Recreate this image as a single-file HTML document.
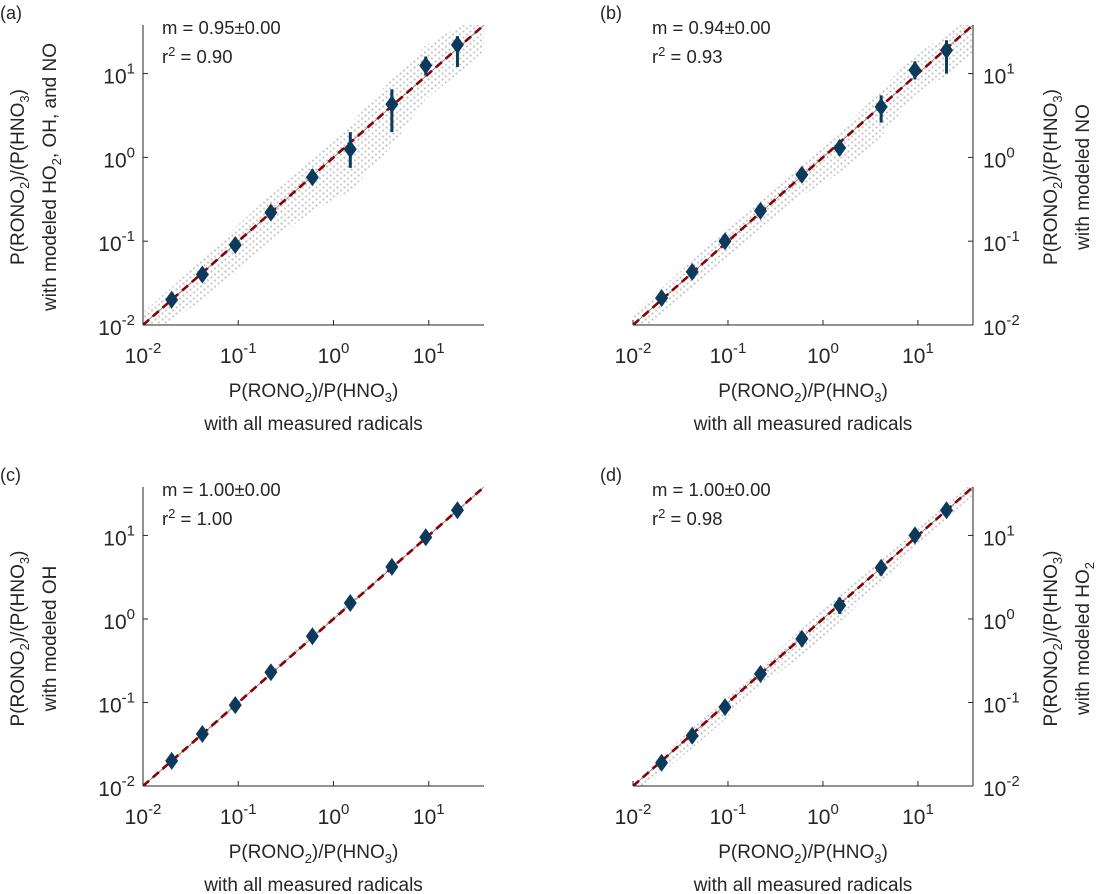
<!DOCTYPE html>
<html><head><meta charset="utf-8">
<style>
html,body{margin:0;padding:0;background:#fff;}
svg{display:block;font-family:"Liberation Sans",sans-serif;fill:#262626;}
</style></head>
<body>
<svg id="fig" width="1103" height="894" viewBox="0 0 1103 894" xmlns="http://www.w3.org/2000/svg">
<defs>
<pattern id="dots" width="7" height="6" patternUnits="userSpaceOnUse">
<circle cx="1.5" cy="1.5" r="1.1" fill="#c2c2c2"/><circle cx="5" cy="4.5" r="1.1" fill="#c8c8c8"/>
</pattern>
</defs>
</svg>
<script>
// Binned data (x = with all measured radicals)
const binX = [0.02, 0.042, 0.093, 0.22, 0.6, 1.5, 4.1, 9.3, 20];
const yA = [0.02, 0.04, 0.09, 0.22, 0.58, 1.25, 4.3, 12.5, 22];
const loA = [0.017, 0.034, 0.076, 0.18, 0.48, 0.75, 2.0, 9.5, 12];
const hiA = [0.024, 0.048, 0.11, 0.27, 0.72, 2.0, 6.5, 16, 28];
const yB = [0.021, 0.043, 0.1, 0.23, 0.62, 1.3, 4.0, 11, 19];
const loB = [0.018, 0.036, 0.085, 0.19, 0.52, 1.05, 2.6, 8.5, 10];
const hiB = [0.025, 0.05, 0.12, 0.28, 0.74, 1.6, 5.5, 14, 25];
const yC = [0.02, 0.042, 0.093, 0.23, 0.62, 1.55, 4.2, 9.5, 20];
const loC = [0.018, 0.037, 0.083, 0.2, 0.52, 1.3, 3.5, 8.0, 17];
const hiC = [0.023, 0.048, 0.105, 0.27, 0.74, 1.85, 5.0, 11.5, 23];
const yD = [0.019, 0.04, 0.088, 0.22, 0.58, 1.45, 4.1, 10, 20];
const loD = [0.016, 0.033, 0.074, 0.18, 0.47, 1.15, 3.3, 8.3, 17];
const hiD = [0.022, 0.047, 0.105, 0.26, 0.7, 1.8, 5.0, 12, 23];
// Scatter spread (decades) around the bins, per panel
const spreadA = [0.25, 0.3, 0.35, 0.35, 0.4, 0.5, 0.5, 0.4, 0.35];
const spreadB = [0.2, 0.22, 0.25, 0.25, 0.25, 0.3, 0.35, 0.3, 0.3];
const spreadC = [0.03, 0.03, 0.03, 0.03, 0.03, 0.03, 0.03, 0.03, 0.03];
const spreadD = [0.12, 0.15, 0.15, 0.15, 0.2, 0.2, 0.18, 0.15, 0.1];
const slopes = ["0.95", "0.94", "1.00", "1.00"];
const r2s = ["0.90", "0.93", "1.00", "0.98"];
const tickExp = [-2, -1, 0, 1];

const NS = "http://www.w3.org/2000/svg";
const svg = document.getElementById('fig');
function mk(tag, attrs, parent) {
  const e = document.createElementNS(NS, tag);
  for (const k in attrs) e.setAttribute(k, attrs[k]);
  (parent || svg).appendChild(e);
  return e;
}
const XMIN = -2, XMAX = Math.log10(38);

const panels = [
  {id:'a', L:143, R:484, T:25, B:325, right:false, y:yA, lo:loA, hi:hiA, sp:spreadA, yl2:'with modeled HO', yl2sub:'2', yl2tail:', OH, and NO'},
  {id:'b', L:633, R:973, T:25, B:325, right:true, y:yB, lo:loB, hi:hiB, sp:spreadB, yl2:'with modeled NO', yl2sub:'', yl2tail:''},
  {id:'c', L:143, R:484, T:487, B:786, right:false, y:yC, lo:loC, hi:hiC, sp:spreadC, yl2:'with modeled OH', yl2sub:'', yl2tail:''},
  {id:'d', L:633, R:973, T:487, B:786, right:true, y:yD, lo:loD, hi:hiD, sp:spreadD, yl2:'with modeled HO', yl2sub:'2', yl2tail:''}
];

function tspanSub(t, txt, dy) {
  const s = mk('tspan', {'font-size':'13', dy: dy}, t); s.textContent = txt; return s;
}

panels.forEach((p, pi) => {
  const g = mk('g', {});
  
  
  const sx = v => p.L + (Math.log10(v) - XMIN) / (XMAX - XMIN) * (p.R - p.L);
  const sy = v => p.B - (Math.log10(v) - XMIN) / (XMAX - XMIN) * (p.B - p.T);
  const cid = 'clip' + p.id;
  const cp = mk('clipPath', {id: cid}, g);
  mk('rect', {x:p.L, y:p.T, width:p.R-p.L, height:p.B-p.T}, cp);
  const plot = mk('g', {'clip-path':'url(#'+cid+')'}, g);

  const up = [], dn = [];
  const xs = [0.008].concat(binX, [50]);
  const ys = [0.008 * p.y[0] / binX[0]].concat(p.y, [50 * p.y[8] / binX[8]]);
  const ss = [p.sp[0]].concat(p.sp, [p.sp[8]]);
  xs.forEach((x, i) => {
    const yv = ys[i];
    up.push(sx(x) + ',' + sy(yv * Math.pow(10, ss[i] * 0.6)));
    dn.unshift(sx(x) + ',' + sy(yv / Math.pow(10, ss[i])));
  });
  const band = mk('polygon', {points: up.concat(dn).join(' '), fill:'url(#dots)'}, plot);
  
  

  mk('line', {x1:sx(0.01), y1:sy(0.01), x2:sx(38), y2:sy(38), stroke:'#777', 'stroke-width':0.8}, plot);
  const one = mk('line', {x1:sx(0.01), y1:sy(0.01), x2:sx(38), y2:sy(38), stroke:'#8b0000', 'stroke-width':2.6, 'stroke-dasharray':'8,5'}, plot);
  
  

  binX.forEach((x, i) => {
    const cx = sx(x), cy = sy(p.y[i]);
    const eb = mk('line', {x1:cx, y1:sy(p.lo[i]), x2:cx, y2:sy(p.hi[i]), stroke:'#0b3a5c', 'stroke-width':3}, plot);
    
    
    const d = mk('polygon', {points:`${cx},${cy-9} ${cx+6.5},${cy} ${cx},${cy+9} ${cx-6.5},${cy}`, fill:'#0b3a5c'}, plot);
    
    
  });

  const ax = p.right ? p.R : p.L;
  mk('line', {x1:p.L, y1:p.B, x2:p.R, y2:p.B, stroke:'#262626', 'stroke-width':1}, g);
  mk('line', {x1:ax, y1:p.T, x2:ax, y2:p.B, stroke:'#262626', 'stroke-width':1}, g);
  tickExp.forEach(e => {
    const v = Math.pow(10, e);
    const tx = sx(v), ty = sy(v);
    mk('line', {x1:tx, y1:p.B, x2:tx, y2:p.B-5, stroke:'#262626'}, g);
    mk('line', {x1:ax, y1:ty, x2: p.right ? ax-5 : ax+5, y2:ty, stroke:'#262626'}, g);
    const xt = mk('text', {x:tx, y:p.B+38, 'font-size':'21', 'text-anchor':'middle'}, g);
    
    
    xt.appendChild(document.createTextNode('10'));
    const s1 = mk('tspan', {'font-size':'15', dy:'-10'}, xt); s1.textContent = String(e);
    const yt = mk('text', {x: p.right ? ax+10 : ax-8, y:ty+10, 'font-size':'21', 'text-anchor': p.right ? 'start' : 'end'}, g);
    
    
    yt.appendChild(document.createTextNode('10'));
    const s2 = mk('tspan', {'font-size':'15', dy:'-10'}, yt); s2.textContent = String(e);
  });

  const cx = (p.L + p.R) / 2;
  const xl = mk('text', {x:cx, y:p.B+72, 'font-size':'19', 'text-anchor':'middle'}, g);
  
  
  xl.appendChild(document.createTextNode('P(RONO'));
  tspanSub(xl, '2', '5');
  const t1 = mk('tspan', {dy:'-5'}, xl); t1.textContent = ')/P(HNO';
  tspanSub(xl, '3', '5');
  const t2 = mk('tspan', {dy:'-5'}, xl); t2.textContent = ')';
  const xl2 = mk('text', {x:cx, y:p.B+105, 'font-size':'19', 'text-anchor':'middle'}, g);
  
  
  xl2.textContent = 'with all measured radicals';

  const cyc = (p.T + p.B) / 2 + 2;
  const x1 = p.right ? p.R + 84 : p.L - 119;
  const x2 = p.right ? p.R + 116 : p.L - 87;
  const yl = mk('text', {x:x1, y:cyc, 'font-size':'19', 'text-anchor':'middle', transform:`rotate(-90 ${x1} ${cyc})`}, g);
  
  
  yl.appendChild(document.createTextNode('P(RONO'));
  tspanSub(yl, '2', '5');
  const u1 = mk('tspan', {dy:'-5'}, yl); u1.textContent = ')/(P(HNO';
  tspanSub(yl, '3', '5');
  const u2 = mk('tspan', {dy:'-5'}, yl); u2.textContent = ')';
  const yl2 = mk('text', {x:x2, y:cyc, 'font-size':'19', 'text-anchor':'middle', transform:`rotate(-90 ${x2} ${cyc})`}, g);
  
  
  yl2.appendChild(document.createTextNode(p.yl2));
  if (p.yl2sub) {
    tspanSub(yl2, p.yl2sub, '5');
    const w = mk('tspan', {dy:'-5'}, yl2); w.textContent = p.yl2tail;
  }

  const lx = p.right ? p.L - 33 : 0;
  const pl = mk('text', {x:lx, y:p.T-6, 'font-size':'18'}, g);
  
  
  pl.textContent = '(' + p.id + ')';
  const sxp = p.L + 19;
  const mt = mk('text', {x:sxp, y:p.T+9, 'font-size':'18.5'}, g);
  
  
  mt.textContent = 'm = ' + slopes[pi] + '\u00b10.00';
  const rt = mk('text', {x:sxp, y:p.T+38, 'font-size':'18.5'}, g);
  
  
  rt.appendChild(document.createTextNode('r'));
  const rs = mk('tspan', {'font-size':'13', dy:'-7'}, rt); rs.textContent = '2';
  const rr = mk('tspan', {dy:'7'}, rt); rr.textContent = ' = ' + r2s[pi];
});
</script>
</body></html>
